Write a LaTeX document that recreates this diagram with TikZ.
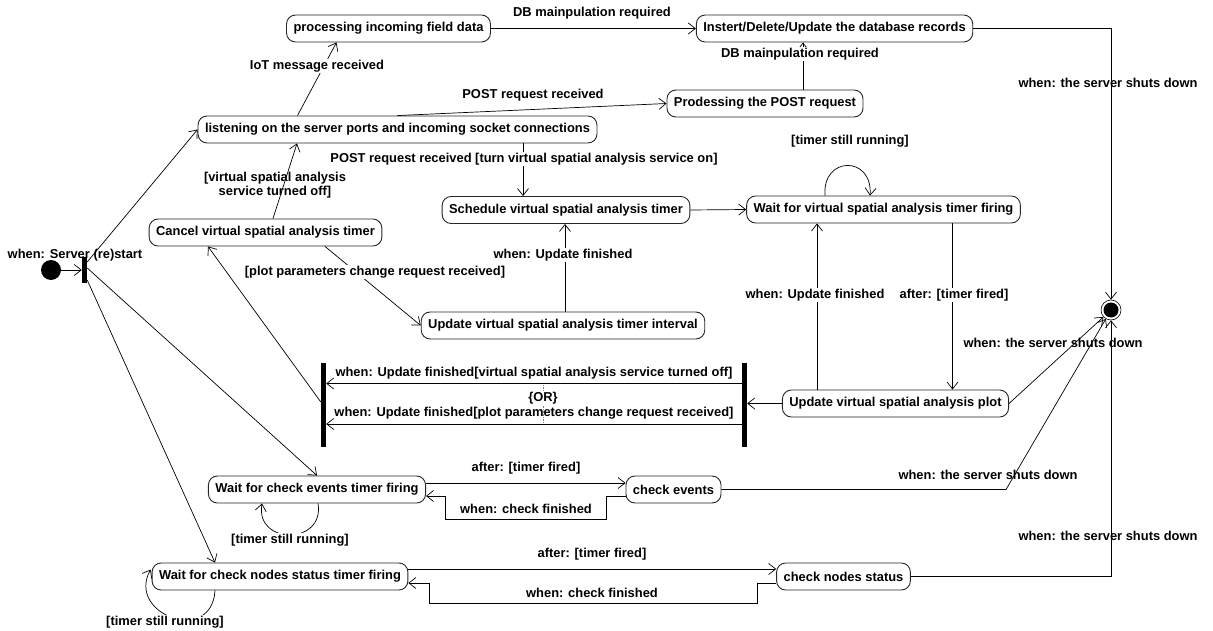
\documentclass[tikz,border=0pt]{standalone}
\usepackage{fontspec}
\setmainfont{Liberation Sans}
\usetikzlibrary{arrows.meta,calc}
\begin{document}
\begin{tikzpicture}[x=1pt,y=-1pt,
  every node/.style={font=\fontsize{12.9}{14.5}\selectfont\bfseries},
  state/.style={draw=black!85, line width=0.9pt, rounded corners=9pt, fill=white,
                minimum height=27pt, inner xsep=7pt, inner ysep=2pt},
  lbl/.style={inner sep=1pt},
  wlbl/.style={lbl, fill=white},
  bar/.style={fill=black, inner sep=0pt, minimum width=5pt},
  tr/.style={draw, line width=0.7pt, ->},
  >={Straight Barb[length=7pt,width=11pt]}
]
\useasboundingbox (0,0) rectangle (1213,631);

% labels drawn under the connectors
\node[lbl] (lStart) at (75,255) {when: Server (re)start};
\node[lbl] (lDb1) at (592,13) {DB mainpulation required};
\node[lbl] (lPost) at (533,95) {POST request received};
\node[lbl] (lLoopV) at (850,141) {[timer still running]};
\node[lbl, align=center] (lOff) at (275,185) {[virtual spatial analysis\\service turned off]};
\node[lbl] (lShut1) at (1108,83) {when: the server shuts down};
\node[lbl] (lShut2) at (1053,343) {when: the server shuts down};
\node[lbl] (lJoin1) at (534,373) {when: Update finished[virtual spatial analysis service turned off]};
\node[lbl] (lJoin2) at (534,413) {when: Update finished[plot parameters change request received]};
\node[lbl] (lAfterE) at (526,468) {after: [timer fired]};
\node[lbl] (lDoneE) at (526,509) {when: check finished};
\node[lbl] (lShut3) at (988,475) {when: the server shuts down};
\node[lbl] (lAfterN) at (592,554) {after: [timer fired]};
\node[lbl] (lDoneN) at (592,593) {when: check finished};
\node[lbl] (lShut4) at (1108,536) {when: the server shuts down};

% states
\node[state] (proc) at (388.5,28.5) {processing incoming field data};
\node[state] (db) at (834.5,28.5) {Instert/Delete/Update the database records};
\node[state] (post) at (765,103.5) {Prodessing the POST request};
\node[state] (listen) at (397.5,129.5) {listening on the server ports and incoming socket connections};
\node[state] (sched) at (566,210) {Schedule virtual spatial analysis timer};
\node[state] (waitv) at (883.5,209.5) {Wait for virtual spatial analysis timer firing};
\node[state] (cancel) at (265.5,232.5) {Cancel virtual spatial analysis timer};
\node[state] (updint) at (563,325.5) {Update virtual spatial analysis timer interval};
\node[state] (updplot) at (895.5,403.5) {Update virtual spatial analysis plot};
\node[state] (waite) at (317,489.5) {Wait for check events timer firing};
\node[state] (checkev) at (673.5,489.5) {check events};
\node[state] (waitn) at (280,576.5) {Wait for check nodes status timer firing};
\node[state] (checkn) at (843.5,576.5) {check nodes status};

% pseudo states and bars
\node[circle, fill=black, minimum size=20pt, inner sep=0pt] (init) at (51,270) {};
\node[bar, minimum height=26pt] (fork) at (84.5,270) {};
\node[bar, minimum height=84pt] (barL) at (323.5,405) {};
\node[bar, minimum height=84pt] (barR) at (744.5,405) {};
\node[circle, draw, line width=0.6pt, minimum size=20pt, inner sep=0pt] (final) at (1111,310) {};
\fill (final.center) circle (7.5pt);

\coordinate (evBend) at (1006,489.5);
\coordinate (orTop) at (543,385);
\coordinate (orBot) at (543,422);

% transitions
\draw[tr] (init) -- (fork);
\draw[tr] ($(fork.east)+(0,-8)$) -- (listen.west);
\draw[tr] ($(fork.east)+(0,-2)$) -- (waite.north);
\draw[tr] ($(fork.east)+(0,10)$) -- ($(waitn.north)+(-65,0)$);
\draw[tr] ($(listen.north)+(-100,0)$) -- ($(proc.south)+(-52,0)$);
\draw[tr] (proc.east) -- (db.west);
\draw[tr] ($(post.north)+(38,0)$) -- ($(db.south)+(-31.5,0)$);
\draw[tr] (listen.north) -- (post.west);
\draw[tr] ($(listen.south)+(125.5,0)$) -- ($(sched.north)+(-43,0)$);
\draw[tr] ($(cancel.north)+(7.5,0)$) -- ($(listen.south)+(-100.5,0)$);
\draw[tr] ($(cancel.south)+(59.5,0)$) -- (updint.west);
\draw[tr] (sched.east) -- (waitv.west);
\draw[tr] ($(updint.north)+(2,0)$) -- ($(sched.south)+(-1,0)$);
\draw[tr] ($(waitv.north)+(-58.5,0)$) .. controls +(-3,-40) and +(3,-40) .. ($(waitv.north)+(-13.5,0)$);
\draw[tr] ($(waitv.south)+(69,0)$) -- ($(updplot.north)+(57,0)$);
\draw[tr] ($(updplot.north)+(-78.5,0)$) -- ($(waitv.south)+(-66.5,0)$);
\draw[tr] (updplot.west) -- (updplot.west -| barR.east);
\draw[tr] ($(barR.west)+(0,-21.5)$) -- ($(barL.east)+(0,-21.5)$);
\draw[tr] ($(barR.west)+(0,19)$) -- ($(barL.east)+(0,19)$);
\draw[tr] ($(barL.west)+(0,-3)$) -- ($(cancel.south)+(-57.5,0)$);
\draw[densely dotted, gray, line width=0.6pt] (orTop) -- (orBot);
\draw[tr] (updplot.east) -- (final);
\draw[tr] (db.east) -- (db.east -| final) -- (final);
\draw[tr] (checkev.east) -- (evBend) -- (final);
\draw[tr] (checkn.east) -- (checkn.east -| final) -- (final);

\draw[tr] ($(waite.east)+(0,-6.5)$) -- ($(checkev.west)+(0,-6.5)$);
\draw[tr] ($(checkev.west)+(0,6.5)$) -- ++(-19,0) -- ++(0,23)
  -- ($(waite.east)+(19,29.5)$) -- ($(waite.east)+(19,6.5)$) -- ($(waite.east)+(0,6.5)$);
\draw[tr] ($(waite.south)+(1,0)$) .. controls +(7,42) and +(-7,42) .. ($(waite.south)+(-55,0)$);

\draw[tr] ($(waitn.east)+(0,-7.5)$) -- ($(checkn.west)+(0,-7.5)$);
\draw[tr] ($(checkn.west)+(0,6.5)$) -- ++(-19,0) -- ++(0,20)
  -- ($(waitn.east)+(21,26.5)$) -- ($(waitn.east)+(21,6.5)$) -- ($(waitn.east)+(0,6.5)$);
\draw[tr] ($(waitn.south)+(-65,0)$) .. controls +(-3,55) and +(-25,45) .. ($(waitn.west)+(-1,-7)$);

% labels that mask the connectors they sit on
\node[wlbl] (lIot) at (317,66) {IoT message received};
\node[wlbl] (lDb2) at (800,54) {DB mainpulation required};
\node[wlbl] (lTurnOn) at (524,159) {POST request received [turn virtual spatial analysis service on]};
\node[wlbl] (lPlot) at (375,272) {[plot parameters change request received]};
\node[wlbl] (lUpd1) at (563,255) {when: Update finished};
\node[wlbl] (lUpd2) at (815,295) {when: Update finished};
\node[wlbl] (lFired) at (954,295) {after: [timer fired]};
\node[wlbl, inner sep=0.5pt] (lOr) at (543,398) {\{OR\}};
\node[wlbl] (lLoopE) at (290,540) {[timer still running]};
\node[wlbl] (lLoopN) at (165,622) {[timer still running]};
\end{tikzpicture}
\end{document}
